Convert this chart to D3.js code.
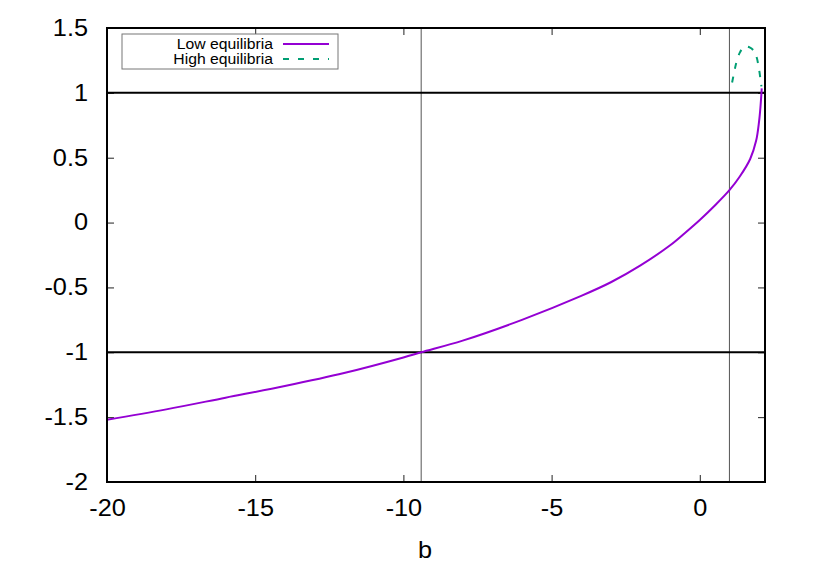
<!DOCTYPE html>
<html>
<head>
<meta charset="utf-8">
<script src="https://cdn.jsdelivr.net/npm/d3@7"></script>
<style>
  body { margin: 0; background: #fff; }
  svg { display: block; font-family: "Liberation Sans", Arial, sans-serif; }
</style>
</head>
<body>
<div id="chart"></div>
<script>
// low branch of equilibria
const lowB = [-20, -18, -16, -14, -12, -10, -9.4, -8, -6, -4, -3, -2, -1, -0.5, 0, 0.5, 1, 1.35, 1.7, 1.9, 2.0, 2.05, 2.09];
const lowY = [-1.52, -1.44, -1.35, -1.26, -1.16, -1.04, -1.0, -0.91, -0.75, -0.565, -0.46, -0.33, -0.175, -0.08, 0.02, 0.13, 0.25, 0.355, 0.49, 0.63, 0.78, 0.9, 1.035];

// high branch (dashed)
const highB = [1.09, 1.17, 1.24, 1.35, 1.47, 1.57, 1.68, 1.8, 1.91, 2.0, 2.05, 2.08];
const highY = [1.08, 1.17, 1.24, 1.31, 1.35, 1.357, 1.35, 1.33, 1.28, 1.18, 1.10, 1.05];

// reference lines
const hLines = [-1, 1];
const vLines = [-9.4, 1];

const xTicks = [-20, -15, -10, -5, 0];
const yTicks = [-2, -1.5, -1, -0.5, 0, 0.5, 1, 1.5];

const WIDTH = 814, HEIGHT = 570;
const LEFT = 107, RIGHT = 765, TOP = 28, BOTTOM = 482;
const STRETCH = 1.1; // the reference font is a bit wider than Liberation Sans

const svg = d3.select('#chart')
  .append('svg')
  .attr('width', WIDTH)
  .attr('height', HEIGHT);

const x = d3.scaleLinear().domain([-20, 2.2]).range([LEFT, RIGHT]);
const y = d3.scaleLinear().domain([-2, 1.5]).range([BOTTOM, TOP]);

const fmt = d => String(d);

// axes with inward ticks, mirrored on top and right
function styleAxis(g) {
  g.select('.domain').remove();
  g.selectAll('.tick line').attr('stroke', '#222').attr('stroke-width', 1);
  g.selectAll('.tick text')
    .attr('fill', '#000')
    .style('font-size', '23px')
    .attr('x', function() { return (+d3.select(this).attr('x') || 0) / STRETCH; })
    .attr('transform', `scale(${STRETCH},1)`);
}

svg.append('g')
  .attr('transform', `translate(0,${BOTTOM})`)
  .call(d3.axisBottom(x).tickValues(xTicks).tickSize(-7).tickPadding(18).tickFormat(fmt))
  .call(styleAxis);

svg.append('g')
  .attr('transform', `translate(0,${TOP})`)
  .call(d3.axisTop(x).tickValues(xTicks).tickSize(-7).tickFormat(''))
  .call(styleAxis);

svg.append('g')
  .attr('transform', `translate(${LEFT},0)`)
  .call(d3.axisLeft(y).tickValues(yTicks).tickSize(-7).tickPadding(19).tickFormat(fmt))
  .call(styleAxis);

svg.append('g')
  .attr('transform', `translate(${RIGHT},0)`)
  .call(d3.axisRight(y).tickValues(yTicks).tickSize(-7).tickFormat(''))
  .call(styleAxis);

// reference lines
svg.selectAll('.vline')
  .data(vLines)
  .enter()
  .append('line')
  .attr('class', 'vline')
  .attr('x1', d => x(d)).attr('x2', d => x(d))
  .attr('y1', TOP).attr('y2', BOTTOM)
  .attr('stroke', '#555')
  .attr('stroke-width', 1);

svg.selectAll('.hline')
  .data(hLines)
  .enter()
  .append('line')
  .attr('class', 'hline')
  .attr('x1', LEFT).attr('x2', RIGHT)
  .attr('y1', d => y(d)).attr('y2', d => y(d))
  .attr('stroke', '#000')
  .attr('stroke-width', 2);

// curves
const line = d3.line()
  .x(d => x(d[0]))
  .y(d => y(d[1]))
  .curve(d3.curveCatmullRom.alpha(0.5));

svg.append('path')
  .datum(lowB.map((b, i) => [b, lowY[i]]))
  .attr('d', line)
  .attr('fill', 'none')
  .attr('stroke', '#9400d3')
  .attr('stroke-width', 2);

svg.append('path')
  .datum(highB.map((b, i) => [b, highY[i]]))
  .attr('d', line)
  .attr('fill', 'none')
  .attr('stroke', '#009e73')
  .attr('stroke-width', 2)
  .attr('stroke-dasharray', '6,8');

// plot border
svg.append('rect')
  .attr('x', LEFT).attr('y', TOP)
  .attr('width', RIGHT - LEFT).attr('height', BOTTOM - TOP)
  .attr('fill', 'none')
  .attr('stroke', '#000')
  .attr('stroke-width', 2);

// axis label
svg.append('text')
  .attr('x', 425 / STRETCH)
  .attr('y', 558)
  .attr('transform', `scale(${STRETCH},1)`)
  .attr('text-anchor', 'middle')
  .style('font-size', '23px')
  .text('b');

// legend
const legendItems = [
  { name: 'Low equilibria', color: '#9400d3', dash: null },
  { name: 'High equilibria', color: '#009e73', dash: '6,9' }
];
const LEG_STRETCH = 1.05;

const legend = svg.append('g').attr('id', 'legend');

legend.append('rect')
  .attr('x', 122).attr('y', 34)
  .attr('width', 216).attr('height', 35)
  .attr('fill', '#fff')
  .attr('stroke', '#777')
  .attr('stroke-width', 1);

legend.selectAll('text')
  .data(legendItems)
  .enter()
  .append('text')
  .attr('x', 273 / LEG_STRETCH)
  .attr('y', (d, i) => 44 + i * 15)
  .attr('dy', '0.35em')
  .attr('transform', `scale(${LEG_STRETCH},1)`)
  .attr('text-anchor', 'end')
  .style('font-size', '15px')
  .text(d => d.name);

legend.selectAll('line')
  .data(legendItems)
  .enter()
  .append('line')
  .attr('x1', 283).attr('x2', 329)
  .attr('y1', (d, i) => 44 + i * 15)
  .attr('y2', (d, i) => 44 + i * 15)
  .attr('stroke', d => d.color)
  .attr('stroke-width', 2)
  .attr('stroke-dasharray', d => d.dash);
</script>
</body>
</html>
